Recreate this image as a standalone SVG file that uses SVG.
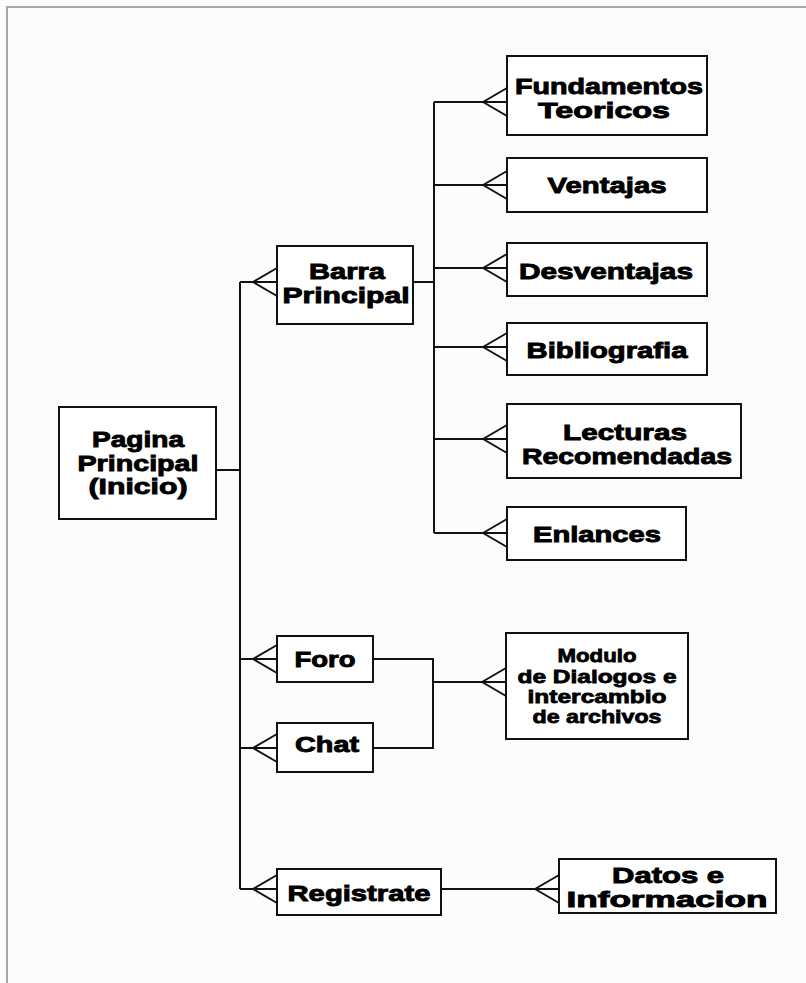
<svg xmlns="http://www.w3.org/2000/svg" width="806" height="983" viewBox="0 0 806 983">
<style>
.bg{fill:#fcfcfc}
.frame{stroke:#a8a8a8;stroke-width:2;fill:none}
.box{fill:#ffffff;stroke:#111;stroke-width:2}
.ln{stroke:#111;stroke-width:2;fill:none}
.t{font-family:"Liberation Sans",Arial,sans-serif;font-weight:bold;font-size:22px;fill:#000;stroke:#000;stroke-width:0.9;text-anchor:middle}
.s{font-size:19px;stroke-width:0.8}
</style>
<rect class="bg" x="0" y="0" width="806" height="983"/>
<path class="frame" d="M7,983 V7 H806"/>
<g id="connectors">
<path class="ln" d="M240,282 V889"/>
<path class="ln" d="M216,470 H240"/>
<path class="ln" d="M240,282 H277 M253,282 L277,268 M253,282 L277,296"/>
<path class="ln" d="M413,282 H434"/>
<path class="ln" d="M434,102 V533"/>
<path class="ln" d="M434,102 H507 M483,102 L507,88 M483,102 L507,116"/>
<path class="ln" d="M434,185 H507 M483,185 L507,171 M483,185 L507,199"/>
<path class="ln" d="M434,268 H507 M483,268 L507,254 M483,268 L507,282"/>
<path class="ln" d="M434,347 H507 M483,347 L507,333 M483,347 L507,361"/>
<path class="ln" d="M434,439 H507 M483,439 L507,425 M483,439 L507,453"/>
<path class="ln" d="M434,533 H507 M483,533 L507,519 M483,533 L507,547"/>
<path class="ln" d="M240,659 H277 M253,659 L277,645 M253,659 L277,673"/>
<path class="ln" d="M240,748 H277 M253,748 L277,734 M253,748 L277,762"/>
<path class="ln" d="M373,659 H433 V748 H373"/>
<path class="ln" d="M433,682 H506 M482,682 L506,668 M482,682 L506,696"/>
<path class="ln" d="M240,889 H277 M253,889 L277,875 M253,889 L277,903"/>
<path class="ln" d="M441,889 H559 M535,889 L559,875 M535,889 L559,903"/>
</g>
<g id="pagina">
<rect class="box" x="59" y="407" width="157" height="112"/>
<text class="t" x="138" y="447" textLength="92" lengthAdjust="spacingAndGlyphs">Pagina</text>
<text class="t" x="138" y="471" textLength="121" lengthAdjust="spacingAndGlyphs">Principal</text>
<text class="t" x="138" y="494" textLength="99" lengthAdjust="spacingAndGlyphs">(Inicio)</text>
</g>
<g id="barra">
<rect class="box" x="277" y="246" width="136" height="78"/>
<text class="t" x="347" y="279" textLength="76" lengthAdjust="spacingAndGlyphs">Barra</text>
<text class="t" x="346" y="303" textLength="127" lengthAdjust="spacingAndGlyphs">Principal</text>
</g>
<g id="fundamentos">
<rect class="box" x="507" y="56" width="200" height="79"/>
<text class="t" x="609" y="94" textLength="188" lengthAdjust="spacingAndGlyphs">Fundamentos</text>
<text class="t" x="604" y="118" textLength="132" lengthAdjust="spacingAndGlyphs">Teoricos</text>
</g>
<g id="ventajas">
<rect class="box" x="507" y="158" width="200" height="54"/>
<text class="t" x="607" y="193" textLength="119" lengthAdjust="spacingAndGlyphs">Ventajas</text>
</g>
<g id="desventajas">
<rect class="box" x="507" y="243" width="200" height="53"/>
<text class="t" x="606" y="279" textLength="174" lengthAdjust="spacingAndGlyphs">Desventajas</text>
</g>
<g id="bibliografia">
<rect class="box" x="507" y="323" width="200" height="52"/>
<text class="t" x="607" y="358" textLength="161" lengthAdjust="spacingAndGlyphs">Bibliografia</text>
</g>
<g id="lecturas">
<rect class="box" x="507" y="404" width="234" height="74"/>
<text class="t" x="625" y="440" textLength="124" lengthAdjust="spacingAndGlyphs">Lecturas</text>
<text class="t" x="627" y="464" textLength="210" lengthAdjust="spacingAndGlyphs">Recomendadas</text>
</g>
<g id="enlances">
<rect class="box" x="507" y="507" width="179" height="53"/>
<text class="t" x="597" y="542" textLength="128" lengthAdjust="spacingAndGlyphs">Enlances</text>
</g>
<g id="foro">
<rect class="box" x="277" y="636" width="96" height="46"/>
<text class="t" x="325" y="667" textLength="61" lengthAdjust="spacingAndGlyphs">Foro</text>
</g>
<g id="chat">
<rect class="box" x="277" y="723" width="96" height="49"/>
<text class="t" x="327" y="752" textLength="64" lengthAdjust="spacingAndGlyphs">Chat</text>
</g>
<g id="modulo">
<rect class="box" x="506" y="633" width="182" height="106"/>
<text class="t s" x="597" y="662" textLength="79" lengthAdjust="spacingAndGlyphs">Modulo</text>
<text class="t s" x="597" y="683" textLength="159" lengthAdjust="spacingAndGlyphs">de Dialogos e</text>
<text class="t s" x="597" y="703" textLength="139" lengthAdjust="spacingAndGlyphs">intercambio</text>
<text class="t s" x="597" y="723" textLength="129" lengthAdjust="spacingAndGlyphs">de archivos</text>
</g>
<g id="registrate">
<rect class="box" x="277" y="869" width="164" height="46"/>
<text class="t" x="359" y="901" textLength="143" lengthAdjust="spacingAndGlyphs">Registrate</text>
</g>
<g id="datos">
<rect class="box" x="559" y="859" width="217" height="54"/>
<text class="t" x="668" y="883" textLength="112" lengthAdjust="spacingAndGlyphs">Datos e</text>
<text class="t" x="667" y="907" textLength="201" lengthAdjust="spacingAndGlyphs">Informacion</text>
</g>
</svg>
